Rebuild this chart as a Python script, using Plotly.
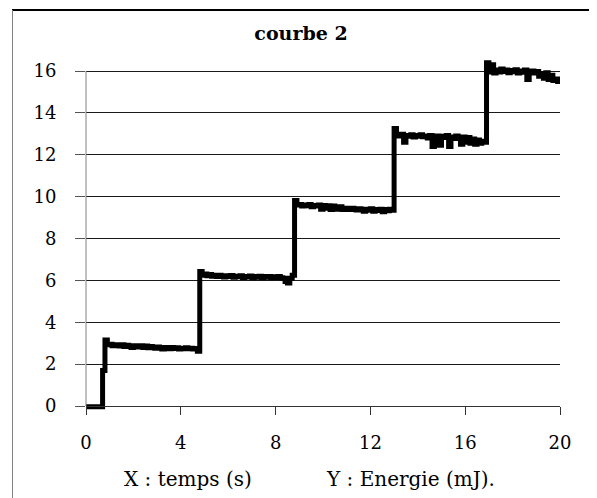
import plotly.graph_objects as go

# Energy samples (mJ), one every 0.1 s from t = 0.0 s to 20.0 s
seg0 = [-0.03, -0.03, -0.03, -0.03, -0.03, -0.03, -0.03]
seg1 = [1.7,
        3.15, 2.92, 2.95, 2.88, 2.93, 2.90, 2.86, 2.92, 2.84, 2.90,
        2.87, 2.80, 2.88, 2.85, 2.82, 2.88, 2.80, 2.86, 2.78, 2.84,
        2.80, 2.76, 2.82, 2.78, 2.72, 2.80, 2.76, 2.74, 2.80, 2.75,
        2.78, 2.72, 2.76, 2.74, 2.78, 2.73, 2.76, 2.72, 2.75, 2.62]
seg2 = [6.42, 6.25, 6.30, 6.22, 6.28, 6.20, 6.25, 6.18, 6.24, 6.20,
        6.16, 6.22, 6.18, 6.23, 6.15, 6.20, 6.17, 6.22, 6.14, 6.19,
        6.16, 6.21, 6.13, 6.18, 6.15, 6.20, 6.12, 6.18, 6.15, 6.19,
        6.13, 6.17, 6.14, 6.18, 6.12, 6.10, 5.95, 5.88, 6.10, 6.25]
seg3 = [9.82, 9.60, 9.62, 9.55, 9.60, 9.57, 9.62, 9.52, 9.58, 9.55,
        9.60, 9.40, 9.58, 9.45, 9.56, 9.38, 9.55, 9.45, 9.40, 9.52,
        9.38, 9.45, 9.42, 9.38, 9.44, 9.40, 9.36, 9.42, 9.38, 9.30,
        9.40, 9.35, 9.42, 9.30, 9.38, 9.34, 9.40, 9.28, 9.38, 9.33,
        9.40, 9.35]
seg4 = [13.25, 12.95, 12.90, 12.98, 12.60, 12.92, 12.88, 12.95, 12.85, 12.92,
        12.88, 12.95, 12.86, 12.90, 12.80, 12.92, 12.40, 12.85, 12.90, 12.45,
        12.88, 12.82, 12.92, 12.40, 12.85, 12.78, 12.90, 12.80, 12.50, 12.85,
        12.60, 12.82, 12.55, 12.75, 12.50, 12.70, 12.55, 12.65, 12.60]
seg5 = [16.40, 15.95, 16.30, 15.90, 16.05, 15.95, 16.10, 15.98, 16.05, 15.92,
        16.02, 15.96, 16.06, 15.90, 16.00, 15.94, 16.05, 15.60, 15.95, 16.00,
        15.90, 15.98, 15.75, 15.88, 15.65, 15.92, 15.60, 15.80, 15.55, 15.62,
        15.50, 15.55]

energy = seg0 + seg1 + seg2 + seg3 + seg4 + seg5
temps = [round(0.1 * i, 1) for i in range(len(energy))]

x_ticks = [0, 4, 8, 12, 16, 20]
y_ticks = [0, 2, 4, 6, 8, 10, 12, 14, 16]

FONT = "DejaVu Serif, Liberation Serif, serif"

# figure geometry (page is offset by the 8px body margin)
W, H = 589, 490
L, R, T, B = 78, 37, 50, 86
Y0_PX, Y16_PX = 398, 63            # pixel rows of y=0 and y=16 (figure coords)
PLOT_H = H - T - B
PX_PER_UNIT = (Y0_PX - Y16_PX) / 16
y_lo = -((H - B) - Y0_PX) / PX_PER_UNIT
y_hi = 16 + (Y16_PX - T) / PX_PER_UNIT
PLOT_W = W - L - R


def px_x(fx):
    return (fx - L) / PLOT_W


def px_y(fy):
    return ((H - B) - fy) / PLOT_H


fig = go.Figure()
fig.add_trace(go.Scatter(x=temps, y=energy, mode="lines",
                         line=dict(color="black", width=5, shape="hv"),
                         showlegend=False, hoverinfo="skip"))

fig.update_layout(
    width=W, height=H,
    margin=dict(l=L, r=R, t=T, b=B),
    paper_bgcolor="white", plot_bgcolor="white",
    font=dict(family=FONT, size=18, color="black"),
    title=dict(text="<b>courbe 2</b>", x=293 / W, xref="container", xanchor="center",
               y=1 - 25 / H, yref="container", yanchor="middle",
               font=dict(family=FONT, size=19, color="black")),
    xaxis=dict(range=[0, 20], tickvals=x_ticks, ticktext=[str(v) for v in x_ticks],
               anchor="free", position=px_y(Y0_PX),
               showgrid=False, zeroline=False, showline=True, linecolor="#333333",
               linewidth=1, ticks="outside", ticklen=8, tickcolor="#333333",
               tickfont=dict(family=FONT, size=18), ticklabelstandoff=12),
    yaxis=dict(range=[y_lo, y_hi], tickvals=y_ticks, ticktext=[str(v) for v in y_ticks],
               domain=[0, 1],
               showgrid=True, gridcolor="#1a1a1a", gridwidth=1, zeroline=False,
               showline=False,
               ticks="outside", ticklen=10, tickcolor="#555555",
               tickfont=dict(family=FONT, size=18), ticklabelstandoff=15),
    annotations=[
        dict(text="X : temps (s)", x=px_x(187.5 - 8), y=px_y(479 - 8), xref="paper", yref="paper",
             showarrow=False, xanchor="center", yanchor="middle",
             font=dict(family=FONT, size=20, color="black")),
        dict(text="Y : Energie (mJ).", x=px_x(410 - 8), y=px_y(479 - 8), xref="paper", yref="paper",
             showarrow=False, xanchor="center", yanchor="middle",
             font=dict(family=FONT, size=20, color="black")),
    ],
    shapes=[
        # y axis line from 0 to 16
        dict(type="line", xref="paper", yref="paper",
             x0=0, x1=0, y0=px_y(Y0_PX), y1=px_y(Y16_PX),
             line=dict(color="#808080", width=1)),
        # outer frame: top and left
        dict(type="line", xref="paper", yref="paper",
             x0=px_x(4), x1=px_x(W + 5), y0=px_y(2), y1=px_y(2),
             line=dict(color="black", width=2)),
        dict(type="line", xref="paper", yref="paper",
             x0=px_x(4.5), x1=px_x(4.5), y0=px_y(2), y1=px_y(H + 5),
             line=dict(color="#808080", width=1)),
    ],
)

fig.write_html("out.html")
